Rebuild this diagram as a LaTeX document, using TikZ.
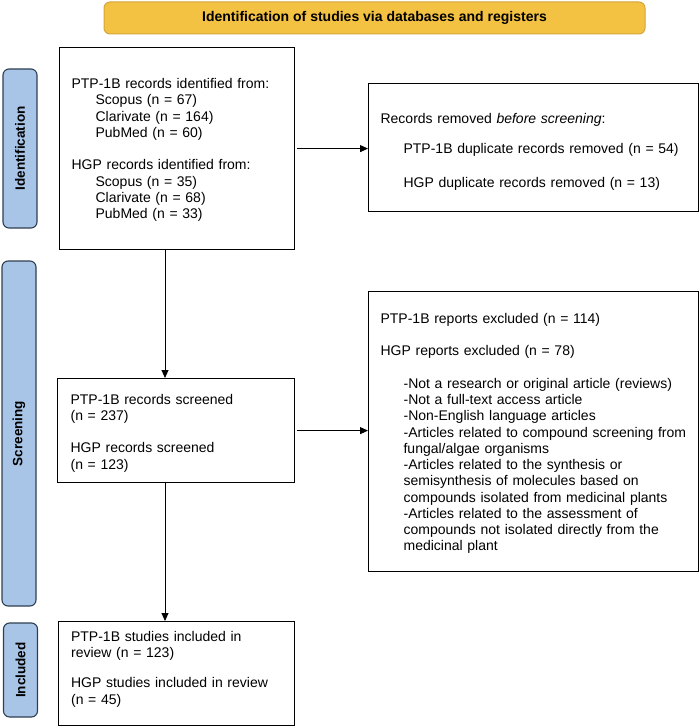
\documentclass[tikz,border=0pt]{standalone}
\usepackage{fontspec}
\setmainfont{Liberation Sans}
\usetikzlibrary{arrows.meta,positioning}
\definecolor{bannerfill}{HTML}{F4C242}
\definecolor{bannerdraw}{HTML}{D4A53A}
\definecolor{labelfill}{HTML}{A8C4E6}
\definecolor{labeldraw}{HTML}{2F3F52}
\tikzset{
  txt/.style={font=\fontsize{14}{16.25}\selectfont},
  flowbox/.style={draw=black, line width=1.2pt, rectangle, anchor=north west,
    inner xsep=12pt, inner ysep=0pt, align=left, txt},
  phase/.style={draw=labeldraw, fill=labelfill, line width=1.1pt, rounded corners=6pt,
    rotate=90, minimum height=34pt, inner sep=0pt,
    font=\fontsize{13.5}{16}\selectfont\bfseries},
  arr/.style={line width=0.9pt, -{Triangle[length=8pt,width=7pt]}},
}
\begin{document}
\begin{tikzpicture}[x=1pt,y=-1pt]
\useasboundingbox (0,0) rectangle (700,727);
% banner
\node[draw=bannerdraw, fill=bannerfill, line width=1pt, rounded corners=6pt,
  minimum width=541pt, minimum height=32pt, inner sep=0pt,
  font=\fontsize{14}{16}\selectfont\bfseries] (banner) at (374.5,18)
  {Identification of studies via databases and registers};
% phase labels
\node[phase, minimum width=159pt] (lid) at (20,148.5) {Identification};
\node[phase, minimum width=345pt] (lscr) at (19,433.5) {Screening};
\node[phase, minimum width=94pt] (linc) at (20.5,670) {Included};
% boxes
\node[flowbox, text width=211pt, minimum height=202pt] (box1) at (59,47) {%
\rule{0pt}{13pt}PTP-1B records identified from:\\
\hspace*{24pt}Scopus (n = 67)\\
\hspace*{24pt}Clarivate (n = 164)\\
\hspace*{24pt}PubMed (n = 60)\\[16.25pt]
HGP records identified from:\\
\hspace*{24pt}Scopus (n = 35)\\
\hspace*{24pt}Clarivate (n = 68)\\
\hspace*{24pt}PubMed (n = 33)};
\node[flowbox, text width=306pt, minimum height=128pt] (box2) at (368,83) {%
\rule{0pt}{19pt}Records removed \textit{before screening}:\\[14pt]
\hspace*{23pt}PTP-1B duplicate records removed (n = 54)\\[18pt]
\hspace*{23pt}HGP duplicate records removed (n = 13)};
\node[flowbox, text width=211pt, minimum height=104pt, inner xsep=13pt] (box3) at (57,378) {%
\rule{0pt}{15pt}PTP-1B records screened\\
(n = 237)\\[16.25pt]
HGP records screened\\
(n = 123)};
\node[flowbox, text width=306pt, minimum height=280pt] (box4) at (368,291) {%
\rule{0pt}{14pt}PTP-1B reports excluded (n = 114)\\[16.25pt]
HGP reports excluded (n = 78)\\[16.25pt]
\hspace*{23pt}-Not a research or original article (reviews)\\
\hspace*{23pt}-Not a full-text access article\\
\hspace*{23pt}-Non-English language articles\\
\hspace*{23pt}-Articles related to compound screening from\\
\hspace*{23pt}fungal/algae organisms\\
\hspace*{23pt}-Articles related to the synthesis or\\
\hspace*{23pt}semisynthesis of molecules based on\\
\hspace*{23pt}compounds isolated from medicinal plants\\
\hspace*{23pt}-Articles related to the assessment of\\
\hspace*{23pt}compounds not isolated directly from the\\
\hspace*{23pt}medicinal plant};
\node[flowbox, text width=211pt, minimum height=104pt, inner xsep=12.5pt] (box5) at (58,621) {%
PTP-1B studies included in\\
review (n = 123)\\[14pt]
HGP studies included in review\\
(n = 45)\rule[-12pt]{0pt}{12pt}};
% connectors
\coordinate (vx) at (165,0);
\draw[arr] (vx |- box1.south) -- (vx |- box3.north);
\draw[arr] (vx |- box3.south) -- (vx |- box5.north);
\draw[arr] ([xshift=2pt]box1.east) -- (box1.east -| box2.west);
\draw[arr] ([xshift=2pt]box3.east) -- (box3.east -| box4.west);
\end{tikzpicture}
\end{document}
